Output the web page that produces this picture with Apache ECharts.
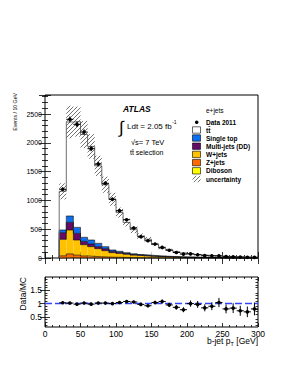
<!DOCTYPE html>
<html><head><meta charset="utf-8">
<script src="https://cdn.jsdelivr.net/npm/echarts@6/dist/echarts.min.js"></script>
<style>html,body{margin:0;padding:0;background:#fff}#c{width:295px;height:382px}</style>
</head><body><div id="c"></div>
<script>
// ---- data (bins of 10 GeV, low edges) ----
const binLow = [20,30,40,50,60,70,80,90,100,110,120,130,140,150,160,170,180,190,200,210,220,230,240,250,260,270,280,290];
const binWidth = 10;
const data2011 = [1193,2408,2321,2187,1898,1632,1297,1019,821,665,521,370,300,243,185,135,95,68,72,57,41,37,36,23,20,15,12,11];
const ttbar    = [672,1632,1836,1785,1625,1345,1075,880,673,523,418,321,277,194,138,115,87,70,56.5,46,38,31.8,27.2,22.5,18.5,15.8,13,10.7];
const singleTop= [46,110,104,70,69,58,35,23,18,15,14,12,10,8,7,6,5,4,3.5,3,2.5,2,1.8,1.5,1.2,1,0.9,0.8];
const multiJets= [116,133,116,58,46,35,35,23,18,13,10,8,6,5,4,3,3,2,2,2,1.5,1.2,1,1,0.8,0.7,0.6,0.5];
const wJets    = [286,415,262,195,169,140,110,80,69,57,44,35,28.5,23,18.5,15.5,13,10.3,8.5,6.7,6,5.1,4.2,3.4,2.9,2.5,2,1.7];
const zJets    = [35,65,45,32,25,19,15,11,9,7,5,4,3.5,3,2.5,2,1.5,1.2,1,0.8,0.7,0.6,0.5,0.4,0.4,0.3,0.3,0.2];
const diboson  = [3,6,5,4,3,3,2,2,2,1,1,1,1,1,1,0.5,0.5,0.5,0.5,0.5,0.3,0.3,0.3,0.2,0.2,0.2,0.2,0.1];
const uncRel   = [0.12,0.12,0.11,0.11,0.11,0.11,0.11,0.11,0.11,0.11,0.12,0.12,0.12,0.12,0.12,0.13,0.13,0.13,0.13,0.14,0.14,0.14,0.15,0.15,0.15,0.16,0.16,0.16];
const ratio    = [1.03,1.02,0.98,1.02,0.98,1.02,1.02,1.00,1.04,1.08,1.06,0.97,0.92,1.04,1.08,0.95,0.86,0.77,1.00,0.97,0.84,0.90,1.04,0.80,0.83,0.73,0.69,0.80];
const xTickLabels = [0,50,100,150,200,250,300];
const yTicksMain = [0,500,1000,1500,2000,2500];
const yTicksRatio = [0.5,1,1.5];
const legendNames = ['t\u0074\u0304','Single top','Multi-jets (DD)','W+jets','Z+jets','Diboson','uncertainty'];

// ---- styles ----
const FONT = '"Liberation Sans", Arial, Helvetica, sans-serif';
const C_TT='#ffffff', C_ST='#0a6ff0', C_MJ='#650a66', C_W='#ffc200', C_Z='#ff6a00', C_DB='#ffff00';

// diagonal hatch drawn as line segments inside a pixel rectangle ("/" lines, x + y = c)
function hatchLines(xl, yt, xr, yb){
  const s = 4, out = [];
  for (let c = Math.ceil((xl+yt)/s)*s; c <= xr+yb; c += s){
    const xa = Math.max(xl, c-yb), xb = Math.min(xr, c-yt);
    if (xb > xa) out.push({type:'line', shape:{x1:xa, y1:c-xa, x2:xb, y2:c-xb}, style:{stroke:'#333', lineWidth:0.7}});
  }
  return out;
}

// ---- stacking ----
const layers = [
  {name:'Diboson', vals: diboson, color: C_DB},
  {name:'Z+jets', vals: zJets, color: C_Z},
  {name:'W+jets', vals: wJets, color: C_W},
  {name:'Multi-jets (DD)', vals: multiJets, color: C_MJ},
  {name:'Single top', vals: singleTop, color: C_ST},
  {name:'ttbar', vals: ttbar, color: C_TT}
];
let base = binLow.map(()=>0);
const series = [];
const tops = [];
layers.forEach(L=>{
  const b = base.slice();
  const t = b.map((v,i)=>v+L.vals[i]);
  series.push({type:'custom', name:L.name, xAxisIndex:0, yAxisIndex:0, silent:true, z:2,
    data: binLow.map((x,i)=>[x,b[i],t[i]]), encode:{x:0,y:[1,2]},
    renderItem(params, api){
      const x0=api.value(0), y0=api.value(1), y1=api.value(2);
      const p0=api.coord([x0,y0]), p1=api.coord([x0+binWidth,y1]);
      return {type:'rect', shape:{x:p0[0], y:p1[1], width:p1[0]-p0[0], height:p0[1]-p1[1]}, style:{fill:L.color}};
    }});
  tops.push({t, isTT: L.name==='ttbar'});
  base = t;
});
tops.forEach(o=>{
  const d=[[binLow[0],0]];
  binLow.forEach((x,i)=>d.push([x,o.t[i]]));
  d.push([binLow[binLow.length-1]+binWidth, o.t[o.t.length-1]]);
  d.push([binLow[binLow.length-1]+binWidth, 0]);
  series.push({type:'line', step:'end', clip:false, xAxisIndex:0, yAxisIndex:0, data:d, showSymbol:false, symbol:'none', silent:true, z:3,
    lineStyle:{color: o.isTT ? '#707070' : '#000', width: o.isTT ? 1 : 0.6}});
});
const mcTotal = base;
// uncertainty band
series.push({type:'custom', name:'uncertainty', xAxisIndex:0, yAxisIndex:0, silent:true, z:4,
  data: binLow.map((x,i)=>[x, mcTotal[i]*(1-uncRel[i]), mcTotal[i]*(1+uncRel[i])]), encode:{x:0,y:[1,2]},
  renderItem(params, api){
    const x0=api.value(0), y0=api.value(1), y1=api.value(2);
    const p0=api.coord([x0,y0]), p1=api.coord([x0+binWidth,y1]);
    return {type:'group', children: hatchLines(p0[0], p1[1], p1[0], p0[1])};
  }});
function pointRender(params, api){
  const x0=api.value(0), y=api.value(1), e=api.value(2);
  const c=api.coord([x0+binWidth/2,y]), l=api.coord([x0,y]), r=api.coord([x0+binWidth,y]);
  const up=api.coord([x0+binWidth/2,y+e]), dn=api.coord([x0+binWidth/2,y-e]);
  return {type:'group', children:[
    {type:'line', shape:{x1:l[0],y1:c[1],x2:r[0],y2:c[1]}, style:{stroke:'#000',lineWidth:1}},
    {type:'line', shape:{x1:c[0],y1:up[1],x2:c[0],y2:dn[1]}, style:{stroke:'#000',lineWidth:1}},
    {type:'circle', shape:{cx:c[0],cy:c[1],r:1.8}, style:{fill:'#000'}}
  ]};
}
series.push({type:'custom', name:'Data 2011', xAxisIndex:0, yAxisIndex:0, silent:true, z:5,
  data: binLow.map((x,i)=>[x, data2011[i], Math.sqrt(data2011[i])]), encode:{x:0,y:1}, renderItem: pointRender});
// ratio
series.push({type:'line', clip:false, xAxisIndex:2, yAxisIndex:2, data:[[0,1],[300,1]], showSymbol:false, symbol:'none', silent:true, z:3,
  lineStyle:{color:'#3344ff', width:1.5, type:[7,3]}});
series.push({type:'custom', xAxisIndex:2, yAxisIndex:2, silent:true, z:5,
  data: binLow.map((x,i)=>[x, ratio[i], ratio[i]/Math.sqrt(data2011[i])]), encode:{x:0,y:1}, renderItem: pointRender});

// ---- axes ----
function xAx(grid, pos, labels){
  return {type:'value', gridIndex:grid, position:pos, min:0, max:300, interval:50,
    axisLine:{show:false}, splitLine:{show:false},
    axisTick:{show:true, inside:true, length:grid===0?6:4, lineStyle:{color:'#000',width:0.8}},
    minorTick:{show:true, splitNumber:5, length:grid===0?3:2, lineStyle:{color:'#000',width:0.8}},
    axisLabel:{show:!!labels, customValues: xTickLabels, hideOverlap:false, color:'#000', fontFamily:FONT, fontSize:8.5, margin:2,
      formatter:v=>String(v)}};
}
function yMain(pos, labels){
  return {type:'value', gridIndex:0, position:pos, min:0, max:2830, interval:500,
    axisLine:{show:false}, splitLine:{show:false},
    axisTick:{show:true, inside:true, length:6, lineStyle:{color:'#000',width:0.8}},
    minorTick:{show:true, splitNumber:5, length:3, lineStyle:{color:'#000',width:0.8}},
    axisLabel:{show:labels, customValues: yTicksMain, hideOverlap:false, color:'#000', fontFamily:FONT, fontSize:7, margin:3,
      formatter:v=>yTicksMain.indexOf(v)>=0 ? String(v) : ''}};
}
const ratioMinor = [0.2,0.3,0.4,0.6,0.7,0.8,0.9,1.1,1.2,1.3,1.4,1.6,1.7,1.8,1.9];
function yRatio(pos, labels, minor){
  return {type:'value', gridIndex:1, position:pos, min:0.12, max:2.0,
    axisLine:{show:false}, splitLine:{show:false},
    axisTick:{show:true, inside:true, length:minor?2.5:5, customValues: minor?ratioMinor:yTicksRatio, lineStyle:{color:'#000',width:0.8}},
    axisLabel:{show:labels, customValues: yTicksRatio, color:'#000', fontFamily:FONT, fontSize:8.5, margin:3, formatter:v=>String(v)}};
}

// ---- text / legend ----
const mc = document.createElement('canvas').getContext('2d');
function tw(txt, size, weight){ mc.font=(weight||'')+' '+size+'px '+FONT; return mc.measureText(txt).width; }
const g = [];
function T(x,y,text,size,opt){ opt=opt||{};
  g.push({type:'text', x, y, rotation:opt.rot||0, z:10, style:{text, fill:'#000', font:(opt.font||'')+' '+size+'px '+FONT,
    align:opt.align||'left', verticalAlign:opt.va||'middle'}}); }
T(123,109,'ATLAS',8.5,{font:'italic bold'});
T(119,127,'\u222B',17,{});
T(127,126,'Ldt = 2.05 fb',8,{});
T(127+tw('Ldt = 2.05 fb',8)+0.5,122,'-1',5,{});
T(131,142,'\u221As= 7 TeV',7.5,{});
T(130,152,'t\u0074\u0304 selection',7,{});
T(206,110,'e+jets',6.5,{});
g.push({type:'circle', shape:{cx:196.7, cy:122.3, r:1.8}, style:{fill:'#000'}, z:10});
T(206,122.3,'Data 2011',6.5,{font:'bold'});
const legFills = [C_TT, C_ST, C_MJ, C_W, C_Z, C_DB, null];
const legY = [130,138,146.2,154.4,162.6,170.8,179];
legendNames.forEach((n,i)=>{
  if (legFills[i]) {
    g.push({type:'rect', shape:{x:192.5, y:legY[i]-3.2, width:8, height:6.4}, z:10,
      style:{fill:legFills[i], stroke:'#000', lineWidth:0.6}});
  } else {
    g.push({type:'group', z:10, children: hatchLines(192.5, legY[i]-3.2, 200.5, legY[i]+3.2)});
  }
  T(206,legY[i],n,6.5,{font:'bold'});
});
T(15,93,'Events / 10 GeV',5.2,{rot:Math.PI/2, align:'right'});
T(23,277,'Data/MC',8.5,{rot:Math.PI/2, align:'right'});
const part3=' [GeV]', part1='b-jet p';
const w3=tw(part3,8.5), wT=tw('T',5.5);
T(258,341,part3,8.5,{align:'right'});
T(258-w3,343.5,'T',5.5,{align:'right'});
T(258-w3-wT,341,part1,8.5,{align:'right'});

const chart = echarts.init(document.getElementById('c'), null, {renderer:'svg'});
chart.setOption({
  animation:false, backgroundColor:'#fff',
  grid:[
    {left:45, top:95, width:213, height:163, show:true, borderColor:'#000', borderWidth:1, backgroundColor:'transparent'},
    {left:45, top:277, width:213, height:50, show:true, borderColor:'#000', borderWidth:1, backgroundColor:'transparent'}
  ],
  xAxis:[xAx(0,'bottom'), xAx(0,'top'), xAx(1,'bottom',true), xAx(1,'top')],
  yAxis:[yMain('left',true), yMain('right',false), yRatio('left',true,false), yRatio('right',false,false),
         yRatio('left',false,true), yRatio('right',false,true)],
  series,
  graphic: g
});
</script></body></html>
